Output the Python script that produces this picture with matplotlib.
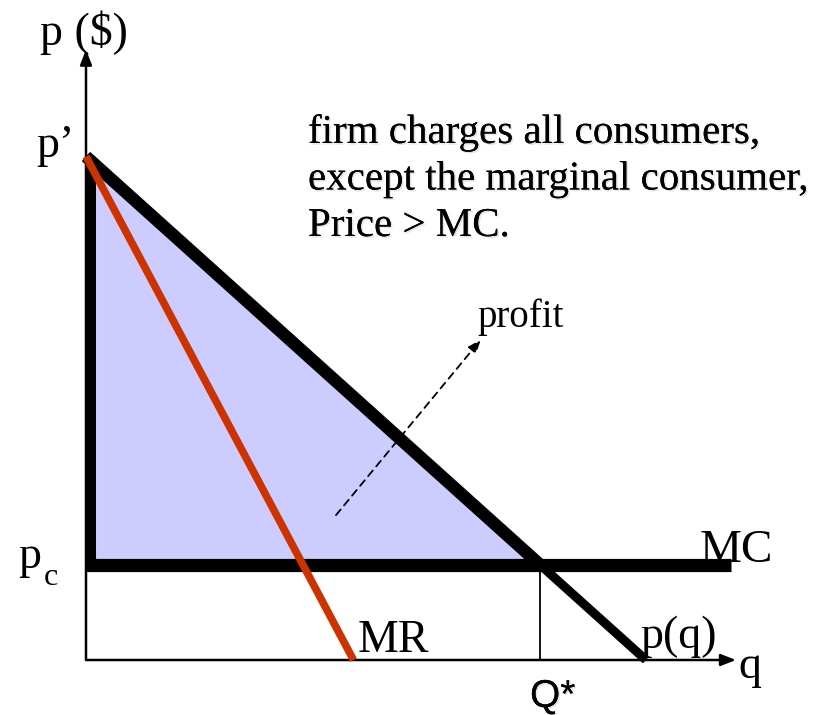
import matplotlib
matplotlib.use("Agg")
import matplotlib.pyplot as plt
import matplotlib.patheffects as pe

# demand / cost values (q units, price units)
p_top = 10.6        # p'
p_c = 2.0           # marginal cost level
q_max = 11.2        # demand hits zero
mr_q_end = 5.35     # MR hits zero
mc_q_end = 12.9
axis_q_end = 13.0
axis_p_end = 12.85
profit_arrow_from = [5.0, 3.05]
profit_arrow_to = [7.9, 6.75]

demand_q = [0, q_max]
demand_p = [p_top, 0]
mr_q = [0, mr_q_end]
mr_p = [p_top, 0]
q_star = (p_top - p_c) / p_top * q_max

W, H = 823, 715
fig = plt.figure(figsize=(W / 100, H / 100), dpi=100)
ax = fig.add_axes([0, 0, 1, 1])
ax.set_xlim(-86 / 50, (W - 86) / 50)
ax.set_ylim(-(H - 660) / 47.5, 660 / 47.5)
ax.axis("off")

serif = "Liberation Serif"
shadow = [pe.withSimplePatchShadow(offset=(1.2, -1.2), shadow_rgbFace="gray", alpha=0.2), pe.Normal()]

# profit triangle
ax.fill([0, 0, q_star], [p_top, p_c, p_c], color="#ccccff", zorder=1, lw=0)

# axes with arrows
arrow_kw = dict(arrowstyle="-|>,head_length=0.9,head_width=0.35", color="black", lw=1.8,
                shrinkA=0, shrinkB=0)
ax.annotate("", xy=(0, axis_p_end), xytext=(0, 0), arrowprops=arrow_kw, zorder=2)
ax.annotate("", xy=(axis_q_end, 0), xytext=(0, 0), arrowprops=arrow_kw, zorder=2)

# triangle edges
ax.plot([0.1, 0.1], [p_c, p_top], color="black", lw=6.5, solid_capstyle="butt", zorder=3)
ax.plot([0, q_star], [p_top, p_c], color="black", lw=9, solid_capstyle="butt", zorder=3)

# demand, MC, MR
ax.plot(demand_q, demand_p, color="black", lw=6.5, solid_capstyle="butt", zorder=3)
ax.plot([0, mc_q_end], [p_c, p_c], color="black", lw=9.5, solid_capstyle="butt", zorder=3)
ax.plot(mr_q, mr_p, color="#cc3300", lw=5.5, solid_capstyle="butt", zorder=4)

# Q* drop line
ax.plot([q_star, q_star], [0, p_c], color="black", lw=1.3, zorder=2)

# profit arrow
ax.annotate("", xy=profit_arrow_to, xytext=profit_arrow_from,
            arrowprops=dict(arrowstyle="-|>,head_length=0.8,head_width=0.3", color="black", lw=1.3,
                            linestyle=(0, (4, 3)), shrinkA=0, shrinkB=0), zorder=5)


def label(x, y, s, size, ha="left", family=serif, **kw):
    fig.text(x / W, 1 - y / H, s, fontsize=size, ha=ha, va="baseline", family=family, **kw)


label(40, 45, "p ($)", 33)
label(36, 157, "p\u2019", 33)
label(18, 568, "p", 33)
label(44, 585, "c", 23)
label(358, 652, "MR", 33)
label(640, 648, "p(q)", 33)
label(700, 562, "MC", 34)
label(738, 678, "q", 33)
label(477, 327, "profit", 28)
label(530, 707, "Q*", 28, family="Liberation Sans", path_effects=shadow)

# multi-line text is placed by the baseline of its last line
fig.text(308 / W, 1 - 236 / H,
         "firm charges all consumers,\nexcept the marginal consumer,\nPrice > MC.",
         fontsize=29.5, family=serif, ha="left", va="baseline", linespacing=1.34,
         path_effects=shadow)

fig.savefig("out.png", dpi=100)
